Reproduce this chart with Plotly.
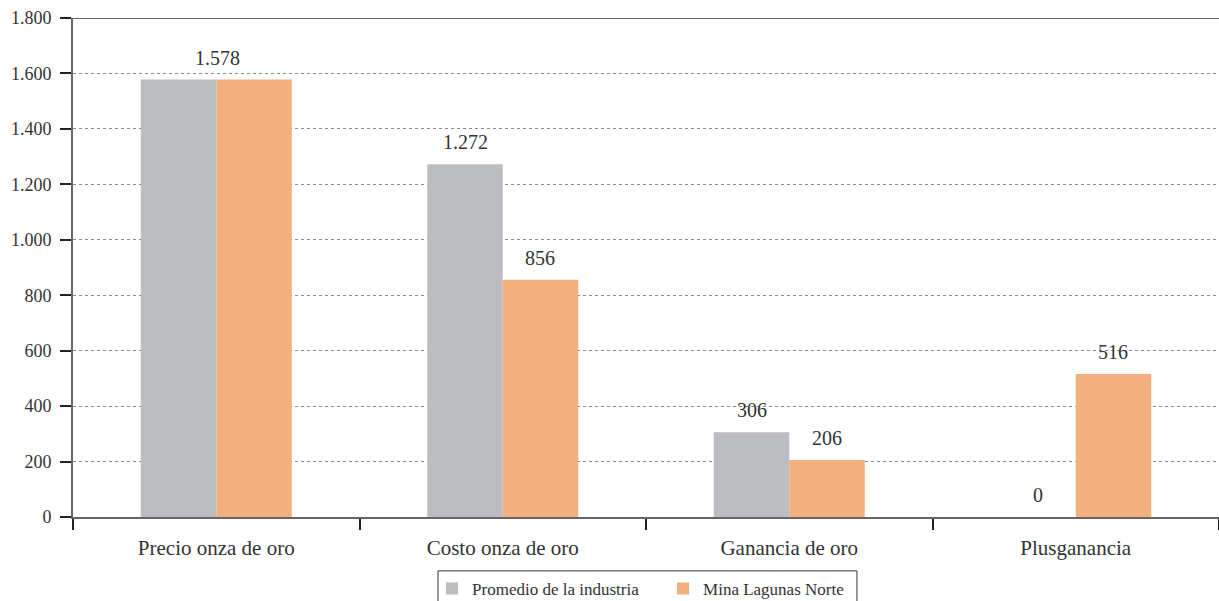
import plotly.graph_objects as go

# Gold economics per ounce (US$)
categories = ["Precio onza de oro", "Costo onza de oro", "Ganancia de oro", "Plusganancia"]
industria = [1578, 1272, 306, 0]
lagunas = [1578, 856, 206, 516]
series_names = ["Promedio de la industria", "Mina Lagunas Norte"]
y_ticks = [0, 200, 400, 600, 800, 1000, 1200, 1400, 1600, 1800]

GRAY = "#BCBDC0"
ORANGE = "#F2B07E"
TEXT = "#333333"
AXIS = "#666666"
FONT = "Liberation Serif"


def fmt(v):
    return f"{v:,}".replace(",", ".")


fig = go.Figure()
fig.add_trace(go.Bar(x=categories, y=industria, name=series_names[0],
                     marker=dict(color=GRAY, line=dict(width=0))))
fig.add_trace(go.Bar(x=categories, y=lagunas, name=series_names[1],
                     marker=dict(color=ORANGE, line=dict(width=0))))

# value labels above bars (one shared label where both series are equal)
annotations = []
half = 37.5
for i, cat in enumerate(categories):
    a, b = industria[i], lagunas[i]
    if a == b:
        annotations.append(dict(x=cat, y=a, text=fmt(a), xshift=1, yshift=22,
                                showarrow=False, yanchor="middle"))
    else:
        annotations.append(dict(x=cat, y=a, text=fmt(a), xshift=-half, yshift=22,
                                showarrow=False, yanchor="middle"))
        annotations.append(dict(x=cat, y=b, text=fmt(b), xshift=half, yshift=22,
                                showarrow=False, yanchor="middle"))
for an in annotations:
    an["font"] = dict(family=FONT, size=20, color=TEXT)

fig.update_layout(
    width=1219, height=601,
    margin=dict(l=73, r=0, t=18, b=84, autoexpand=False),
    paper_bgcolor="white", plot_bgcolor="white",
    barmode="group", bargap=0.473, bargroupgap=0,
    separators=",.",
    font=dict(family=FONT, size=16, color=TEXT),
    annotations=annotations,
    showlegend=True,
    legend=dict(orientation="h", x=0.3133, xanchor="left", y=-0.108, yanchor="top",
                borderwidth=0, bgcolor="rgba(0,0,0,0)",
                font=dict(family=FONT, size=17, color=TEXT),
                itemsizing="constant", tracegroupgap=0, entrywidth=186),
    xaxis=dict(range=[-0.5, 3.5], showline=True, linecolor=AXIS, linewidth=2,
               ticks="outside", tickson="boundaries", ticklen=11, tickwidth=1.5,
               tickcolor="#222222", showgrid=False,
               tickfont=dict(family=FONT, size=21, color=TEXT),
               ticklabelstandoff=11),
    yaxis=dict(range=[0, 1800], tickvals=y_ticks, tickformat=",d",
               showline=True, linecolor=AXIS, linewidth=2,
               ticks="outside", ticklen=11, tickwidth=1.5, tickcolor="#222222",
               showgrid=True, gridcolor="#8a8a8a", griddash="dot", gridwidth=1,
               zeroline=False,
               tickfont=dict(family=FONT, size=18, color=TEXT),
               ticklabelstandoff=5),
)

# solid top border at the axis maximum
fig.add_shape(type="line", xref="paper", yref="y", x0=0, x1=1, y0=1800, y1=1800,
              line=dict(color=AXIS, width=2))
# frame around the legend
fig.add_shape(type="rect", xref="paper", yref="paper", x0=0.3185, x1=0.6841,
              y0=-0.108, y1=-0.25, line=dict(color="#333333", width=1),
              fillcolor="rgba(0,0,0,0)", layer="below")

fig.write_html("out.html")
